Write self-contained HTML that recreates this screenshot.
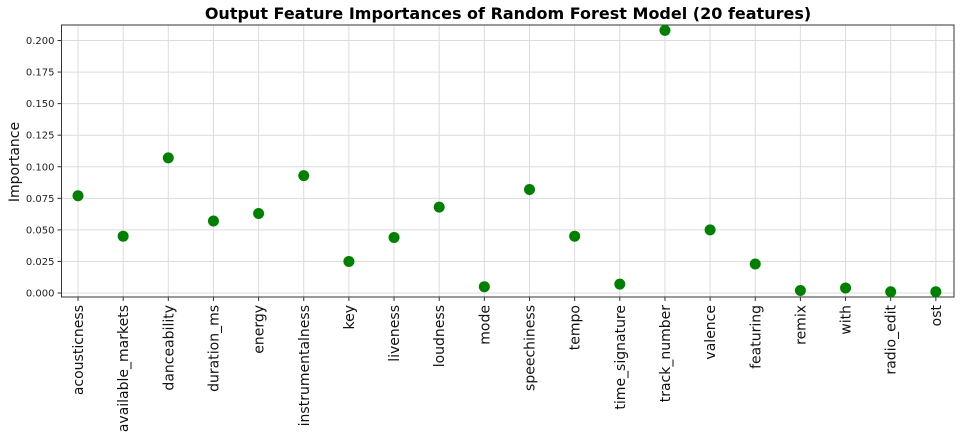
<!DOCTYPE html>
<html><head><meta charset="utf-8"><style>
body{margin:0;background:#fff;}
svg{display:block;font-family:"DejaVu Sans","Liberation Sans",sans-serif;}
</style></head><body>
<svg id="chart" width="964" height="439"></svg>
<script>
const features=["acousticness","available_markets","danceability","duration_ms","energy","instrumentalness","key","liveness","loudness","mode","speechiness","tempo","time_signature","track_number","valence","featuring","remix","with","radio_edit","ost"];
const importances=[0.077,0.045,0.107,0.057,0.063,0.093,0.025,0.044,0.068,0.005,0.082,0.045,0.007,0.208,0.050,0.023,0.002,0.004,0.001,0.001];
const yTicks=[0,0.025,0.05,0.075,0.1,0.125,0.15,0.175,0.2];
const yTickLabels=["0.000","0.025","0.050","0.075","0.100","0.125","0.150","0.175","0.200"];
const NS="http://www.w3.org/2000/svg";
const svg=document.getElementById('chart');
const L=61.5,R=954,T=25,B=297;
function xPos(i){return 78+i*45.15;}
function yPos(v){return 293-v*1262.5;}
function el(tag,attrs,parent){const e=document.createElementNS(NS,tag);for(const k in attrs)e.setAttribute(k,attrs[k]);(parent||svg).appendChild(e);return e;}
const grid=el('g',{});


yTicks.forEach((t,i)=>{
  const y=yPos(t);
  el('line',{x1:L,x2:R,y1:y,y2:y,stroke:'#dcdcdc','stroke-width':1},grid);
  el('line',{x1:L-4,x2:L,y1:y,y2:y,stroke:'#333','stroke-width':1},grid);
  const tx=el('text',{x:L-7,y:y+3.5,'text-anchor':'end','font-size':'10',fill:'#222'});
  tx.textContent=yTickLabels[i];
  
  
});
features.forEach((f,i)=>{
  const x=xPos(i);
  el('line',{x1:x,x2:x,y1:T,y2:B,stroke:'#dcdcdc','stroke-width':1},grid);
  el('line',{x1:x,x2:x,y1:B,y2:B+4,stroke:'#333','stroke-width':1},grid);
  const tx=el('text',{transform:`translate(${x+5},305) rotate(-90)`,'text-anchor':'end','font-size':'14',fill:'#111'});
  tx.textContent=f;
  
  
});
const frame=el('rect',{x:L,y:T,width:R-L,height:B-T,fill:'none',stroke:'#333','stroke-width':1});


importances.forEach((v,i)=>{
  const c=el('circle',{cx:xPos(i),cy:yPos(v),r:5.5,fill:'#008000'});
  
  
});
const title=el('text',{x:508,y:19,'text-anchor':'middle','font-size':'16','font-weight':'bold',fill:'#000'});
title.textContent='Output Feature Importances of Random Forest Model (20 features)';


const yl=el('text',{transform:'translate(19,162) rotate(-90)','text-anchor':'middle','font-size':'14',fill:'#111'});
yl.textContent='Importance';


</script>
</body></html>
